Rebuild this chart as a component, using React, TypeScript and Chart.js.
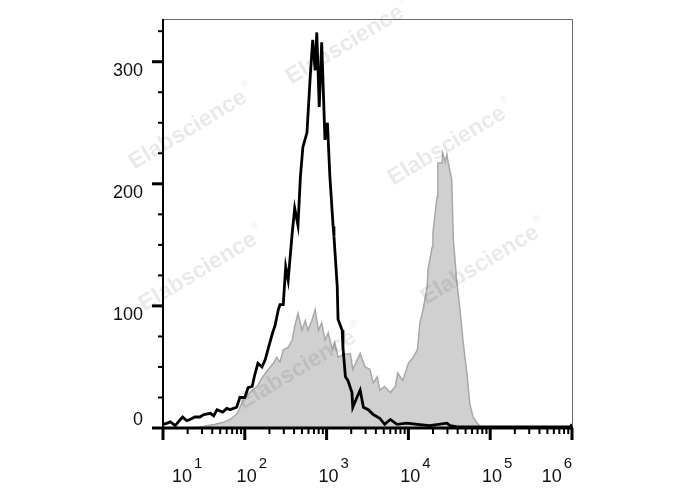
import React, { useEffect, useRef } from "react";
import { Chart, registerables } from "chart.js";

Chart.register(...registerables);

// log10 of fluorescence intensity (decades) and event counts
const blackX = [1.00,1.05,1.09,1.15,1.20,1.24,1.29,1.33,1.39,1.45,1.50,1.58,1.62,1.66,1.73,1.78,1.82,1.90,1.94,2.00,2.04,2.09,2.12,2.16,2.21,2.25,2.29,2.34,2.37,2.41,2.43,2.47,2.50,2.53,2.58,2.61,2.65,2.68,2.71,2.76,2.80,2.83,2.86,2.88,2.91,2.94,2.98,3.01,3.04,3.08,3.09,3.13,3.14,3.19,3.20,3.23,3.26,3.31,3.32,3.37,3.41,3.45,3.51,3.57,3.65,3.71,3.78,3.86,3.98,4.11,4.26,4.47,4.51,4.60,5.00,5.50,5.98,6.00];
const blackY = [3,4,5,2,6,9,6,7,9,9,11,12,10,15,13,16,15,17,25,25,33,34,43,53,50,56,66,78,84,97,101,101,132,121,160,180,166,206,230,242,288,318,293,324,263,316,236,250,206,165,157,116,89,80,66,42,39,29,17,25,31,17,15,11,8,3,7,3,4,3,2,4,2,1,1,1,1,3];

const grayX = [1.00,1.40,1.55,1.64,1.75,1.82,1.91,1.98,2.06,2.15,2.22,2.31,2.35,2.39,2.43,2.47,2.53,2.58,2.61,2.65,2.70,2.74,2.77,2.82,2.86,2.90,2.94,2.98,3.02,3.07,3.10,3.14,3.20,3.29,3.32,3.41,3.47,3.53,3.57,3.62,3.65,3.71,3.78,3.84,3.87,3.93,4.00,4.06,4.11,4.14,4.18,4.23,4.24,4.29,4.30,4.35,4.36,4.41,4.42,4.45,4.47,4.48,4.53,4.55,4.59,4.63,4.67,4.72,4.75,4.79,4.84,4.88,4.94,6.00];
const grayY = [0,0,2,3,5,7,12,23,29,34,42,50,53,58,54,64,66,72,83,94,80,88,80,88,97,80,86,72,78,64,70,58,60,61,48,61,50,48,37,42,31,34,29,34,45,39,53,58,64,86,97,116,130,148,160,189,217,217,225,218,224,220,203,154,121,97,70,42,20,9,4,1,0,0];

const yMajorTicks = [0, 100, 200, 300];
const yMinorTicks = [25, 50, 75, 125, 150, 175, 225, 250, 275, 325];
const xDecades = [1, 2, 3, 4, 5, 6];
const xLabelExponents = ["1", "2", "3", "4", "5", "6"];
const watermarkText = "Elabscience";
const watermarkCenters = [
  [345, 45], [188, 130], [447, 146], [198, 272], [480, 265], [297, 370],
];

const FONT = '"Liberation Sans", Arial, sans-serif';

const flowAxes = {
  id: "flowAxes",
  afterDatasetsDraw(chart: any) {
    const { ctx, chartArea, scales } = chart;
    const { left, right, top, bottom } = chartArea;
    const x = scales.x;
    const y = scales.y;
    ctx.save();

    // watermarks
    ctx.fillStyle = "rgba(0,0,0,0.085)";
    for (const [cx, cy] of watermarkCenters) {
      ctx.save();
      ctx.translate(cx, cy);
      ctx.rotate(-31 * Math.PI / 180);
      ctx.font = `bold 23px ${FONT}`;
      const w = ctx.measureText(watermarkText).width;
      ctx.textAlign = "left";
      ctx.textBaseline = "middle";
      ctx.fillText(watermarkText, -w / 2, 0);
      ctx.font = `10px ${FONT}`;
      ctx.fillText("®", w / 2 + 2, -10);
      ctx.restore();
    }

    // frame (top/right)
    ctx.strokeStyle = "#6a6a6a";
    ctx.lineWidth = 1;
    ctx.beginPath();
    ctx.moveTo(left, top + 0.5);
    ctx.lineTo(right + 0.5, top + 0.5);
    ctx.lineTo(right + 0.5, bottom);
    ctx.stroke();

    // axes
    ctx.fillStyle = "#000";
    ctx.fillRect(left - 1, top, 2, bottom - top + 1);
    ctx.fillRect(left - 1, bottom - 1.5, right - left + 2, 3);

    // y ticks
    for (const v of yMajorTicks) {
      const py = y.getPixelForValue(v);
      ctx.fillRect(left - 11, py - 1.5, 11, 3);
    }
    for (const v of yMinorTicks) {
      const py = y.getPixelForValue(v);
      ctx.fillRect(left - 5, py - 1, 5, 2);
    }
    // x ticks
    for (const d of xDecades) {
      const px = x.getPixelForValue(d);
      ctx.fillRect(px - 1.5, bottom, 3, 12);
      if (d < xDecades[xDecades.length - 1]) {
        for (let k = 2; k <= 9; k++) {
          const pm = x.getPixelForValue(d + Math.log10(k));
          ctx.fillRect(pm - 1, bottom, 2, 6);
        }
      }
    }

    // y labels
    ctx.fillStyle = "#111";
    ctx.font = `18px ${FONT}`;
    ctx.textAlign = "right";
    for (const v of yMajorTicks) {
      const py = y.getPixelForValue(v);
      if (v === yMajorTicks[0]) {
        ctx.textBaseline = "bottom";
        ctx.fillText(String(v), left - 20, py + 1);
      } else {
        ctx.textBaseline = "top";
        ctx.fillText(String(v), left - 20, py + 0.5);
      }
    }

    // x labels: 10^n
    ctx.textAlign = "left";
    ctx.textBaseline = "alphabetic";
    xDecades.forEach((d, i) => {
      const px = x.getPixelForValue(d);
      ctx.font = `18px ${FONT}`;
      const wb = ctx.measureText("10").width;
      ctx.font = `15px ${FONT}`;
      const ws = ctx.measureText(xLabelExponents[i]).width;
      const total = wb + 2 + ws;
      let lx = px + 7 - total / 2;
      if (lx < left + 9) lx = left + 9;
      if (lx + total > right) lx = right - total;
      ctx.font = `18px ${FONT}`;
      ctx.fillText("10", lx, 482);
      ctx.font = `15px ${FONT}`;
      ctx.fillText(xLabelExponents[i], lx + wb + 2, 468);
    });

    ctx.restore();
  },
};

export default function App() {
  const ref = useRef<HTMLCanvasElement | null>(null);
  useEffect(() => {
    if (!ref.current) return;
    const chart = new Chart(ref.current, {
      type: "line",
      data: {
        datasets: [
          {
            label: "Isotype",
            data: blackX.map((v, i) => ({ x: v, y: blackY[i] })),
            borderColor: "#000",
            borderWidth: 2.8,
            pointRadius: 0,
            fill: false,
            tension: 0,
          },
          {
            label: "Stained",
            data: grayX.map((v, i) => ({ x: v, y: grayY[i] })),
            borderColor: "#a8a8a8",
            backgroundColor: "#d0d0d0",
            borderWidth: 1.5,
            pointRadius: 0,
            fill: "origin",
            tension: 0,
          },
        ],
      },
      options: {
        responsive: false,
        animation: false,
        layout: { padding: { left: 163, right: 116, top: 19, bottom: 62 } },
        plugins: { legend: { display: false }, tooltip: { enabled: false } },
        scales: {
          x: { type: "linear", min: 1, max: 6, display: false },
          y: { type: "linear", min: 0, max: 335, display: false },
        },
      },
      plugins: [flowAxes],
    });
    return () => chart.destroy();
  }, []);
  return (
    <div style={{ position: "fixed", left: 0, top: 0, width: 688, height: 490, background: "#fff" }}>
      <canvas ref={ref} width={688} height={490} />
    </div>
  );
}
